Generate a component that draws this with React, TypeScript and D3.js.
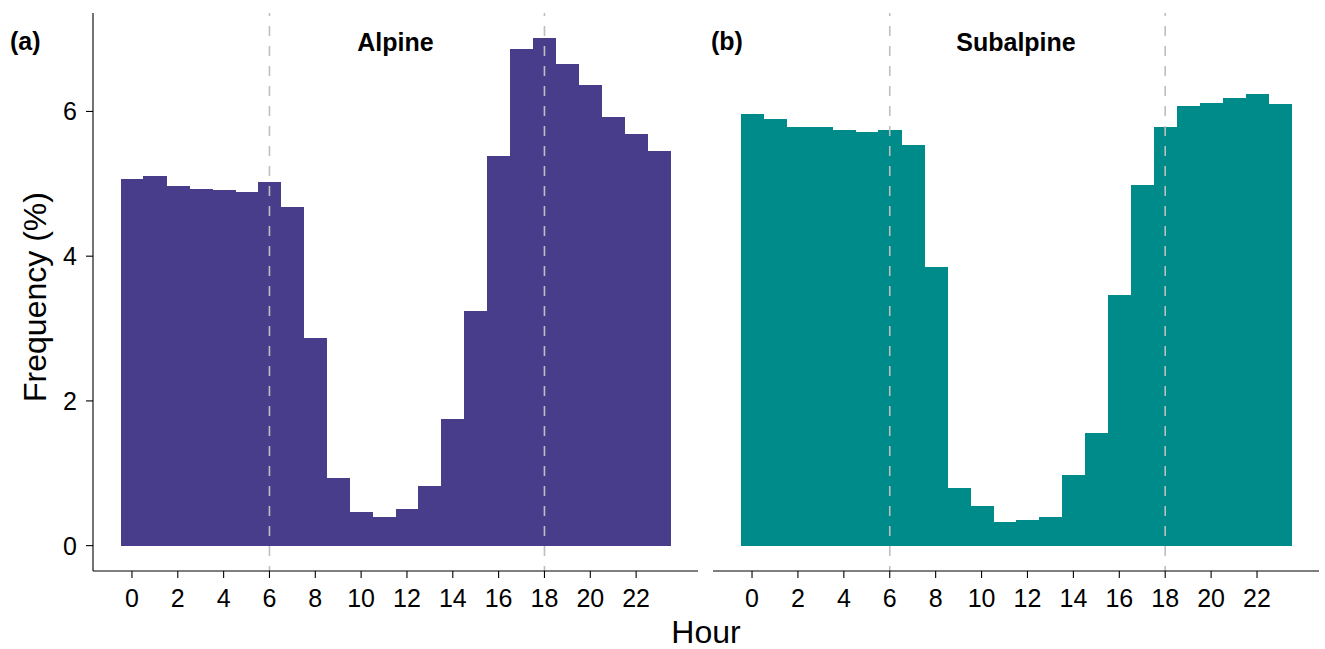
import * as d3 from 'd3';
import React from 'react';

const hours = d3.range(24);
const alpine = [5.06, 5.11, 4.97, 4.93, 4.91, 4.89, 5.03, 4.68, 2.87, 0.94, 0.47, 0.39,
  0.5, 0.82, 1.75, 3.24, 5.39, 6.86, 7.01, 6.66, 6.36, 5.92, 5.69, 5.45];
const subalpine = [5.97, 5.89, 5.79, 5.78, 5.75, 5.72, 5.74, 5.53, 3.85, 0.8, 0.55, 0.32,
  0.35, 0.39, 0.98, 1.55, 3.46, 4.99, 5.79, 6.08, 6.12, 6.18, 6.24, 6.1];
const xTicks = [0, 2, 4, 6, 8, 10, 12, 14, 16, 18, 20, 22];
const yTicks = [0, 2, 4, 6];
const dashHours = [6, 18];

const panels = [
  { tag: '(a)', title: 'Alpine', values: alpine, color: '#483D8B', x0: 93, x1: 698, tagX: 10, axisY: true },
  { tag: '(b)', title: 'Subalpine', values: subalpine, color: '#008B8B', x0: 713, x1: 1319, tagX: 711, axisY: false },
];

const font = 'Liberation Sans, Arial, Helvetica, sans-serif';
const top = 13;
const bottom = 571;

export default function App() {
  const maxV = d3.max([...alpine, ...subalpine]) as number;
  const pad = maxV * 0.05;
  const y = d3.scaleLinear().domain([-pad, maxV + pad]).range([bottom, top]);

  return (
    <svg width={1325} height={649} style={{ position: 'absolute', left: 0, top: 0 }} fontFamily={font}>
      {panels.map((p, pi) => {
        const x = d3.scaleLinear().domain([-1.7, 24.7]).range([p.x0, p.x1]);
        return (
          <g key={pi}>
            <g shapeRendering="crispEdges">
              {hours.map((h, i) => (
                <rect key={h} x={x(h - 0.5)} width={x(h + 0.5) - x(h - 0.5) + 0.5}
                  y={y(p.values[i])} height={y(0) - y(p.values[i])} fill={p.color} />
              ))}
            </g>
            {dashHours.map(h => (
              <line key={h} x1={x(h)} x2={x(h)} y1={top} y2={bottom}
                stroke="#BEBEBE" strokeWidth={1.6} strokeDasharray="10,10" strokeDashoffset={7} />
            ))}
            <line x1={p.x0} x2={p.x1} y1={bottom} y2={bottom} stroke="#000" strokeWidth={1.1} />
            {xTicks.map(t => (
              <g key={t} transform={`translate(${x(t)},${bottom})`}>
                <line y1={0} y2={7} stroke="#000" strokeWidth={1.1} />
                <text y={36} textAnchor="middle" fontSize={25} fill="#000">{t}</text>
              </g>
            ))}
            {p.axisY && (
              <g>
                <line x1={p.x0} x2={p.x0} y1={top} y2={bottom} stroke="#000" strokeWidth={1.1} />
                {yTicks.map(t => (
                  <g key={t} transform={`translate(${p.x0},${y(t)})`}>
                    <line x1={-7} x2={0} stroke="#000" strokeWidth={1.1} />
                    <text x={-16} dy="0.36em" textAnchor="end" fontSize={25} fill="#000">{t}</text>
                  </g>
                ))}
              </g>
            )}
            <text x={(p.x0 + p.x1) / 2} y={51} textAnchor="middle" fontSize={25} fontWeight="bold">{p.title}</text>
            <text x={p.tagX} y={50} fontSize={25} fontWeight="bold">{p.tag}</text>
          </g>
        );
      })}
      <text transform="translate(46,297) rotate(-90)" textAnchor="middle" fontSize={32}>Frequency (%)</text>
      <text x={706} y={643} textAnchor="middle" fontSize={32}>Hour</text>
    </svg>
  );
}
